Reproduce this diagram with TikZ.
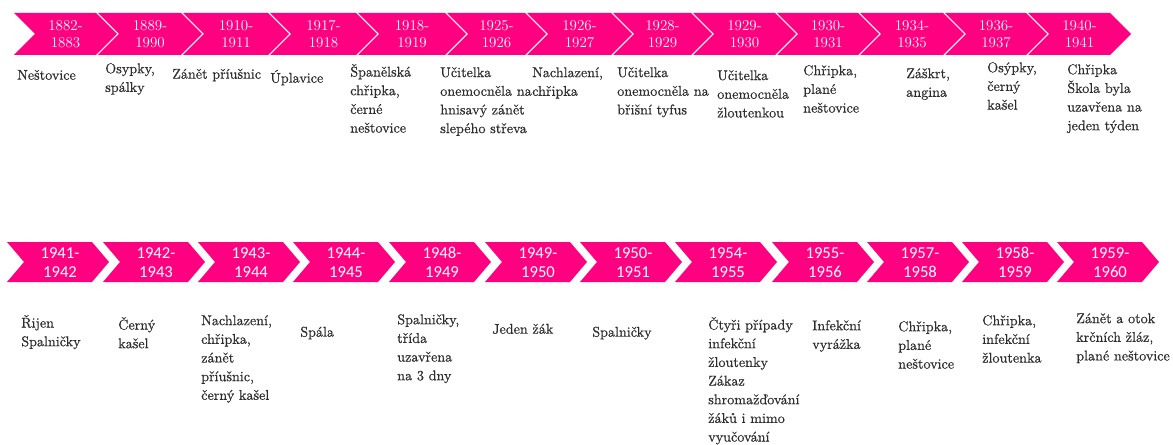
\documentclass[tikz,border=0pt]{standalone}
\usepackage{fontspec}
\newfontfamily\yearsansfont{Carlito}
\newfontfamily\labelserif{lmroman10-regular.otf}[FakeBold=0.5]
\definecolor{chevpink}{RGB}{255,0,128}
\definecolor{labelgray}{RGB}{45,45,45}
\tikzset{
  chevron/.style={fill=chevpink},
  yearserif/.style={text=white, align=center, inner sep=0pt,
    font=\rmfamily\fontsize{11.25}{12.75}\selectfont},
  yearsans/.style={text=white, align=center, inner sep=0pt,
    font=\yearsansfont\fontsize{12.5}{14.25}\selectfont},
  event/.style={text=labelgray, align=left, anchor=north west, inner sep=0pt,
    font=\labelserif\fontsize{10.6}{14}\selectfont, execute at begin node={\rule{0pt}{10.8pt}}},
}
% \chevshape{left}{right}{top}{height}{point depth}
\newcommand\chevshape[5]{%
  \fill[chevron] (#1,#3) -- (#2,#3) -- ({#2+#5},{#3+#4/2}) -- (#2,{#3+#4})
    -- (#1,{#3+#4}) -- ({#1+#5},{#3+#4/2}) -- cycle;}
\begin{document}
\begin{tikzpicture}[x=0.75pt,y=-0.75pt]
\useasboundingbox (0,0) rectangle (1173,445);

% upper time line
\foreach \L/\R/\a/\b [count=\i] in {
  14/96/1882/1883, 98/181/1889/1990, 183/268/1910/1911, 270/356/1917/1918,
  358/445/1918/1919, 447/525/1925/1926, 527/611/1926/1927, 613/691/1928/1929,
  693/775/1929/1930, 777/858/1930/1931, 860/943/1934/1935, 945/1026/1936/1937,
  1028/1110/1940/1941}{
  \chevshape{\L}{\R}{13}{42}{21}
  \node[yearserif] (ty\i) at ({(\L+\R+21)/2},34) {\a-\\\b};
}

% lower time line
\foreach \L/\a/\b [count=\i] in {
  7/1941/1942, 103/1942/1943, 198/1943/1944, 293/1944/1945,
  389/1948/1949, 485/1949/1950, 580/1950/1951, 675/1954/1955,
  772/1955/1956, 867/1957/1958, 962/1958/1959, 1057/1959/1960}{
  \chevshape{\L}{\L+85}{242}{40}{17}
  \node[yearsans] (by\i) at (\L+53,262.5) {\a-\\\b};
}

% events of the upper line
\node[event] (te1)  at (17,65)   {Neštovice};
\node[event] (te2)  at (105,63)  {Osypky,\\spálky};
\node[event] (te3)  at (172,64)  {Zánět příušnic};
\node[event] (te4)  at (270,68)  {Úplavice};
\node[event] (te5)  at (350,64)  {Španělská\\chřipka,\\černé\\neštovice};
\node[event] (te6)  at (440,67)  {Učitelka\\onemocněla na\\hnisavý zánět\\slepého střeva};
\node[event] (te7)  at (532,67)  {Nachlazení,\\chřipka};
\node[event] (te8)  at (617,67)  {Učitelka\\onemocněla na\\břišní tyfus};
\node[event] (te9)  at (717,70)  {Učitelka\\onemocněla\\žloutenkou};
\node[event] (te10) at (803,65)  {Chřipka,\\plané\\neštovice};
\node[event] (te11) at (906,68)  {Záškrt,\\angina};
\node[event] (te12) at (987,62)  {Osýpky,\\černý\\kašel};
\node[event] (te13) at (1067,64) {Chřipka\\Škola byla\\uzavřena na\\jeden týden};

% events of the lower line
\node[event] (be1)  at (21,315)   {Řijen\\Spalničky};
\node[event] (be2)  at (118,317)  {Černý\\kašel};
\node[event] (be3)  at (201,315)  {Nachlazení,\\chřipka,\\zánět\\příušnic,\\černý kašel};
\node[event] (be4)  at (300,322)  {Spála};
\node[event] (be5)  at (397,314)  {Spalničky,\\třída\\uzavřena\\na 3 dny};
\node[event] (be6)  at (492,319)  {Jeden žák};
\node[event] (be7)  at (592,322)  {Spalničky};
\node[event] (be8)  at (708,317)  {Čtyři případy\\infekční\\žloutenky\\Zákaz\\shromažďování\\žáků i mimo\\vyučování};
\node[event] (be9)  at (812,320)  {Infekční\\vyrážka};
\node[event] (be10) at (898,321)  {Chřipka,\\plané\\neštovice};
\node[event] (be11) at (982,315)  {Chřipka,\\infekční\\žloutenka};
\node[event] (be12) at (1076,313) {Zánět a otok\\krčních žláz,\\plané neštovice};
\end{tikzpicture}
\end{document}
